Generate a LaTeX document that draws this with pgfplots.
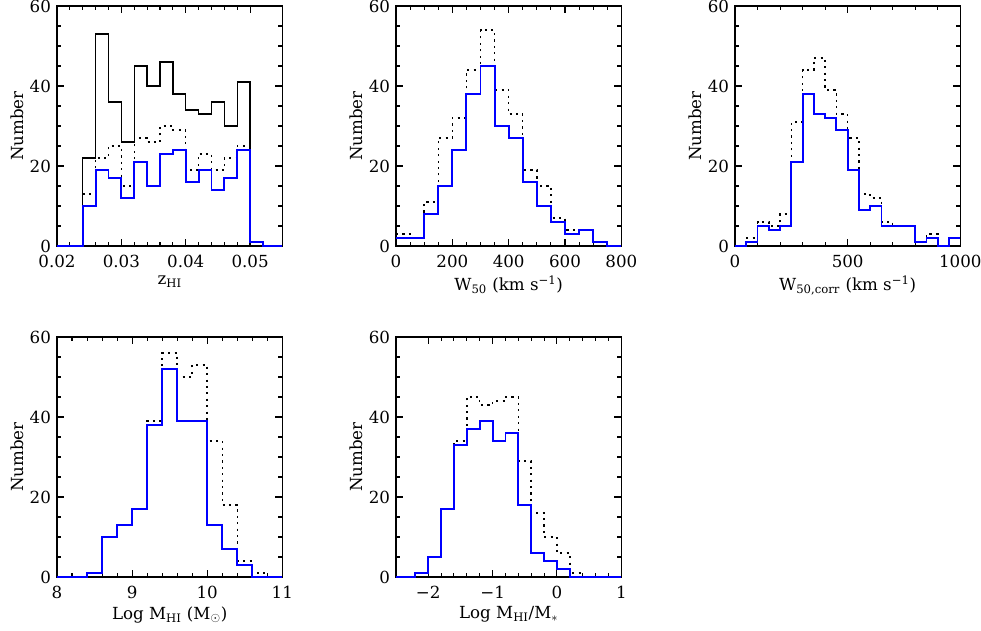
\documentclass[border=0pt]{standalone}
\usepackage{pgfplots}
\pgfplotsset{compat=1.18}
\usepackage{fontspec}
\setmainfont{DejaVu Serif}
\definecolor{histblue}{RGB}{0,0,255}

\pgfplotsset{
  histpanel/.style={
    scale only axis, width=169pt, height=180pt,
    anchor=south west, clip=false,
    ymin=0, ymax=60, ytick={0,20,40,60}, minor y tick num=3,
    tick align=inside,
    major tick length=5.2pt, minor tick length=3pt,
    every tick/.style={black, line width=0.8pt},
    axis line style={line width=0.9pt},
    ylabel={Number},
    tick label style={font=\fontsize{12.5}{14}\selectfont},
    xticklabel style={yshift=-3.5pt},
    yticklabel style={xshift=-1pt},
    label style={font=\fontsize{12.5}{14}\selectfont},
    xlabel style={yshift=1pt},
    ylabel style={yshift=-2pt},
    /pgf/number format/assume math mode=true,
    /pgf/number format/1000 sep={},
  },
  solidh/.style={const plot, black, line width=1.1pt, mark=none},
  dotth/.style={const plot, black, line width=1.1pt, mark=none, dash pattern=on 1.6pt off 3.2pt},
  blueh/.style={const plot, histblue, line width=1.4pt, mark=none},
}

\begin{document}
\begin{tikzpicture}
\useasboundingbox (-42.75pt,-288.75pt) rectangle (693pt,184.5pt);

% z_HI
\begin{axis}[histpanel, at={(0pt,0pt)},
    xmin=0.02, xmax=0.055, xtick={0.02,0.03,0.04,0.05}, minor x tick num=4,
    scaled x ticks=false,
    xticklabel style={/pgf/number format/fixed, /pgf/number format/fixed zerofill, /pgf/number format/precision=2},
    xlabel={z\textsubscript{HI}}]
\addplot[solidh] coordinates {(0.020,0) (0.024,22) (0.026,53) (0.028,36) (0.030,26) (0.032,45) (0.034,40) (0.036,46) (0.038,38) (0.040,34) (0.042,33) (0.044,36) (0.046,30) (0.048,41) (0.050,0) (0.055,0)};
\addplot[dotth] coordinates {(0.024,13) (0.026,22) (0.028,25) (0.030,15) (0.032,27) (0.034,26) (0.036,30) (0.038,29) (0.040,19) (0.042,23) (0.044,19) (0.046,22) (0.048,25) (0.050,25)};
\addplot[blueh] coordinates {(0.020,0) (0.024,10) (0.026,19) (0.028,17) (0.030,12) (0.032,21) (0.034,15) (0.036,23) (0.038,24) (0.040,16) (0.042,19) (0.044,14) (0.046,17) (0.048,24) (0.050,1) (0.052,0) (0.055,0)};
\end{axis}

% W50
\begin{axis}[histpanel, at={(254.25pt,0pt)},
    xmin=0, xmax=800, xtick={0,200,400,600,800}, minor x tick num=3,
    xlabel={W\textsubscript{50} (km s\textsuperscript{−1})}]
\addplot[dotth] coordinates {(0,3) (50,2) (100,11) (150,27) (200,32) (250,44) (300,54) (350,39) (400,33) (450,19) (500,15) (550,7) (600,4) (650,4) (700,1) (750,0) (800,0)};
\addplot[blueh] coordinates {(0,2) (100,8) (150,15) (200,24) (250,38) (300,45) (350,30) (400,27) (450,16) (500,10) (550,6) (600,3) (650,4) (700,1) (750,0) (800,0)};
\end{axis}

% W50,corr
\begin{axis}[histpanel, at={(508.5pt,0pt)},
    xmin=0, xmax=1000, xtick={0,500,1000}, minor x tick num=4,
    xlabel={W\textsubscript{50,corr} (km s\textsuperscript{−1})}]
\addplot[dotth] coordinates {(0,0) (50,2) (100,6) (150,5) (200,8) (250,31) (300,44) (350,47) (400,39) (450,33) (500,27) (550,13) (600,12) (650,6) (700,5) (800,1) (850,3) (900,0) (950,2) (1000,2)};
\addplot[blueh] coordinates {(0,0) (50,1) (100,5) (150,4) (200,5) (250,21) (300,38) (350,33) (400,32) (450,29) (500,19) (550,9) (600,10) (650,5) (800,1) (850,2) (900,0) (950,2) (1000,2)};
\end{axis}

% Log MHI
\begin{axis}[histpanel, at={(0pt,-248.25pt)},
    xmin=8, xmax=11, xtick={8,9,10,11}, minor x tick num=4,
    xlabel={Log M\textsubscript{HI} (M$_\odot$)}]
\addplot[dotth] coordinates {(9.0,17) (9.2,39) (9.4,56) (9.6,50) (9.8,53) (10.0,34) (10.2,18) (10.4,4) (10.6,1) (10.8,0) (11,0)};
\addplot[blueh] coordinates {(8,0) (8.4,1) (8.6,10) (8.8,13) (9.0,17) (9.2,38) (9.4,52) (9.6,39) (10.0,13) (10.2,7) (10.4,3) (10.6,0) (11,0)};
\end{axis}

% Log MHI/M*
\begin{axis}[histpanel, at={(254.25pt,-248.25pt)},
    xmin=-2.5, xmax=1, xtick={-2,-1,0,1}, xticklabels={−2,−1,0,1}, minor x tick num=4,
    xlabel={Log M\textsubscript{HI}/M$_*$}]
\addplot[dotth] coordinates {(-1.8,17) (-1.6,34) (-1.4,45) (-1.2,43) (-1.0,44) (-0.8,45) (-0.6,29) (-0.4,16) (-0.2,10) (0,6) (0.2,1) (0.4,0) (1,0)};
\addplot[blueh] coordinates {(-2.5,0) (-2.2,1) (-2.0,5) (-1.8,17) (-1.6,33) (-1.4,37) (-1.2,39) (-1.0,34) (-0.8,36) (-0.6,18) (-0.4,6) (-0.2,4) (0,2) (0.2,0) (1,0)};
\end{axis}
\end{tikzpicture}
\end{document}
